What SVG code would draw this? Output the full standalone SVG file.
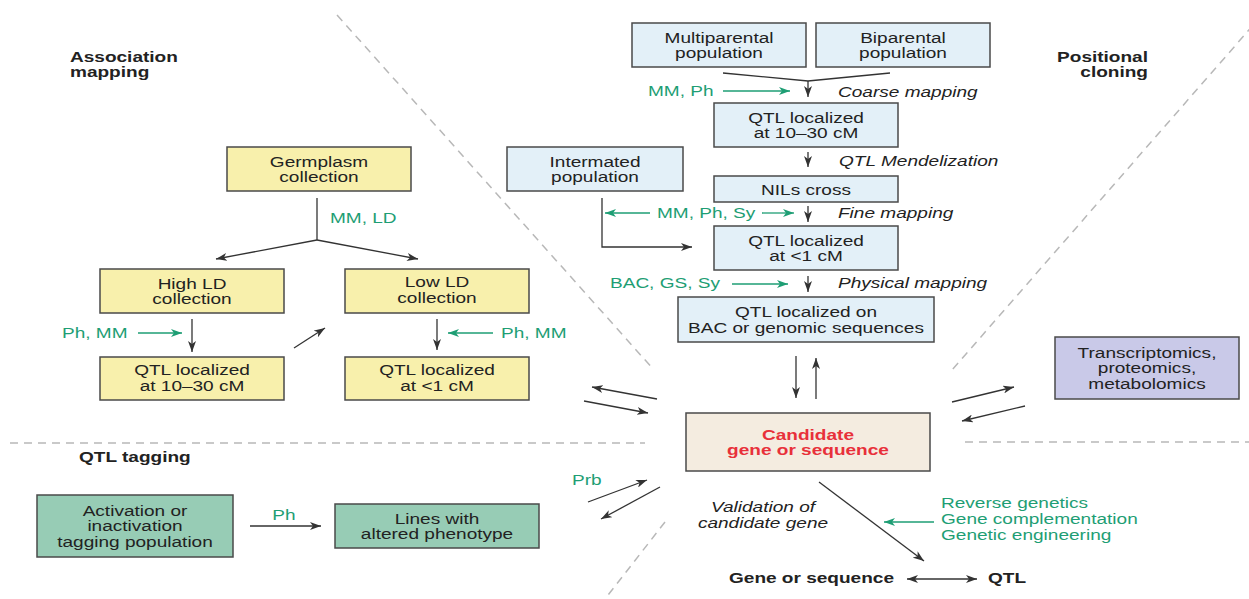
<svg xmlns="http://www.w3.org/2000/svg" width="1249" height="599" viewBox="0 0 1249 599">
<style>
text{font-family:"Liberation Sans",Arial,sans-serif;font-size:15px;fill:#222}
.m{text-anchor:middle}
.e{text-anchor:end}
.b{font-weight:bold}
.i{font-style:italic}
.g{fill:#1e9e74}
.r{fill:#e8303a;font-weight:bold}
rect{stroke:#4a4a4a;stroke-width:1.5}
.blue{fill:#e3f0f8}
.yel{fill:#f8f0ac}
.beige{fill:#f4ece0}
.lav{fill:#c9c9e8}
.teal{fill:#97ccb5}
.dash{stroke:#b8b8b8;stroke-width:1.5;stroke-dasharray:8 6;fill:none}
.k{stroke:#333;stroke-width:1.3;fill:none}
.ka{stroke:#333;stroke-width:1.3;fill:none;marker-end:url(#ah)}
.ga{stroke:#1e9e74;stroke-width:1.3;fill:none;marker-end:url(#gh)}
</style>
<defs>
<marker id="ah" markerUnits="userSpaceOnUse" markerWidth="12" markerHeight="8" refX="11" refY="4" orient="auto-start-reverse"><path d="M0,0 L11,4 L0,8 L3,4 Z" fill="#333"/></marker>
<marker id="gh" markerUnits="userSpaceOnUse" markerWidth="12" markerHeight="8" refX="11" refY="4" orient="auto"><path d="M0,0 L11,4 L0,8 L3,4 Z" fill="#1e9e74"/></marker>
</defs>
<g id="dividers">
<line class="dash" x1="337" y1="15" x2="654" y2="370"/>
<line class="dash" x1="1262" y1="15" x2="952" y2="370"/>
<line class="dash" x1="665" y1="522" x2="605" y2="599"/>
<line class="dash" x1="10" y1="443" x2="645" y2="443"/>
<line class="dash" x1="965" y1="442" x2="1249" y2="442"/>
</g>
<g id="headings">
<text class="b" transform="translate(70,62) scale(1.27 1)">Association<tspan x="0" dy="15.5">mapping</tspan></text>
<text class="b e" transform="translate(1148,62) scale(1.27 1)">Positional<tspan x="0" dy="15.5">cloning</tspan></text>
<text class="b" transform="translate(79,462) scale(1.27 1)">QTL tagging</text>
</g>
<g id="connectors">
<polyline class="k" points="723,73 808,81 890,73"/>
<line class="ka" x1="808" y1="81" x2="808" y2="97"/>
<line class="ga" x1="723" y1="91" x2="790" y2="91"/>
<line class="ka" x1="808" y1="152" x2="808" y2="167"/>
<line class="ka" x1="808" y1="206" x2="808" y2="222"/>
<line class="ga" x1="650" y1="213" x2="605" y2="213"/>
<line class="ga" x1="762" y1="213" x2="794" y2="213"/>
<polyline class="ka" points="602,198 602,247 692,247"/>
<line class="ka" x1="808" y1="276" x2="808" y2="292"/>
<line class="ga" x1="732" y1="284" x2="788" y2="284"/>
<line class="ka" x1="796" y1="356" x2="796" y2="398"/>
<line class="ka" x1="816" y1="399" x2="816" y2="358"/>
<line class="ka" x1="657" y1="399" x2="592" y2="387"/>
<line class="ka" x1="584" y1="401" x2="648" y2="413"/>
<line class="ka" x1="588" y1="502" x2="647" y2="480"/>
<line class="ka" x1="660" y1="487" x2="601" y2="519"/>
<line class="ka" x1="952" y1="402" x2="1014" y2="387"/>
<line class="ka" x1="1025" y1="406" x2="962" y2="421"/>
<line class="ka" x1="819" y1="482" x2="924" y2="561"/>
<line class="ga" x1="934" y1="522" x2="884" y2="522"/>
<line class="ka" x1="907" y1="579" x2="977" y2="579" style="marker-start:url(#ah)"/>
<polyline class="k" points="317,198 317,240"/>
<line class="ka" x1="317" y1="240" x2="216" y2="259"/>
<line class="ka" x1="317" y1="240" x2="418" y2="259"/>
<line class="ga" x1="138" y1="333" x2="182" y2="333"/>
<line class="ka" x1="192" y1="319" x2="192" y2="352"/>
<line class="ka" x1="294" y1="348" x2="325" y2="328"/>
<line class="ka" x1="437" y1="319" x2="437" y2="350"/>
<line class="ga" x1="493" y1="333" x2="448" y2="333"/>
<line class="ka" x1="250" y1="526" x2="321" y2="526"/>
</g>
<g id="labels">
<text class="g" transform="translate(648,96) scale(1.27 1)">MM, Ph</text>
<text class="i" transform="translate(838,97) scale(1.27 1)">Coarse mapping</text>
<text class="i" transform="translate(839,166) scale(1.27 1)">QTL Mendelization</text>
<text class="g" transform="translate(657,218) scale(1.27 1)">MM, Ph, Sy</text>
<text class="i" transform="translate(838,218) scale(1.27 1)">Fine mapping</text>
<text class="g" transform="translate(610,288) scale(1.27 1)">BAC, GS, Sy</text>
<text class="i" transform="translate(838,288) scale(1.27 1)">Physical mapping</text>
<text class="g" transform="translate(330,223) scale(1.27 1)">MM, LD</text>
<text class="g" transform="translate(62,338) scale(1.27 1)">Ph, MM</text>
<text class="g" transform="translate(501,338) scale(1.27 1)">Ph, MM</text>
<text class="g" transform="translate(572,485) scale(1.27 1)">Prb</text>
<text class="g m" transform="translate(284,520) scale(1.27 1)">Ph</text>
<text class="i m" transform="translate(763,512) scale(1.27 1)">Validation of<tspan x="0" dy="16">candidate gene</tspan></text>
<text class="g" transform="translate(941,508) scale(1.27 1)">Reverse genetics<tspan x="0" dy="16">Gene complementation</tspan><tspan x="0" dy="16">Genetic engineering</tspan></text>
<text class="b" transform="translate(729,583) scale(1.27 1)">Gene or sequence</text>
<text class="b" transform="translate(988,583) scale(1.27 1)">QTL</text>
</g>
<g id="n-multiparental"><rect class="blue" x="632" y="23" width="174" height="44"/><text class="m" transform="translate(719,42.5) scale(1.27 1)">Multiparental<tspan x="0" dy="16">population</tspan></text></g>
<g id="n-biparental"><rect class="blue" x="816" y="23" width="174" height="44"/><text class="m" transform="translate(903,42.5) scale(1.27 1)">Biparental<tspan x="0" dy="16">population</tspan></text></g>
<g id="n-qtl-10-30"><rect class="blue" x="714" y="103" width="184" height="44"/><text class="m" transform="translate(806,122.5) scale(1.27 1)">QTL localized<tspan x="0" dy="16">at 10–30 cM</tspan></text></g>
<g id="n-nils"><rect class="blue" x="714" y="176" width="184" height="26"/><text class="m" transform="translate(806,194.5) scale(1.27 1)">NILs cross</text></g>
<g id="n-intermated"><rect class="blue" x="507" y="147" width="176" height="44"/><text class="m" transform="translate(595,166.5) scale(1.27 1)">Intermated<tspan x="0" dy="16">population</tspan></text></g>
<g id="n-qtl-1"><rect class="blue" x="714" y="226" width="184" height="44"/><text class="m" transform="translate(806,245.5) scale(1.27 1)">QTL localized<tspan x="0" dy="16">at &lt;1 cM</tspan></text></g>
<g id="n-bac"><rect class="blue" x="678" y="297" width="256" height="45"/><text class="m" transform="translate(806,317) scale(1.27 1)">QTL localized on<tspan x="0" dy="16">BAC or genomic sequences</tspan></text></g>
<g id="n-germplasm"><rect class="yel" x="227" y="147" width="184" height="44"/><text class="m" transform="translate(319,166.5) scale(1.27 1)">Germplasm<tspan x="0" dy="16">collection</tspan></text></g>
<g id="n-highld"><rect class="yel" x="100" y="269" width="184" height="44"/><text class="m" transform="translate(192,288.5) scale(1.27 1)">High LD<tspan x="0" dy="16">collection</tspan></text></g>
<g id="n-lowld"><rect class="yel" x="345" y="269" width="184" height="44"/><text class="m" transform="translate(437,287) scale(1.27 1)">Low LD<tspan x="0" dy="16">collection</tspan></text></g>
<g id="n-qtl-a"><rect class="yel" x="100" y="357" width="184" height="43"/><text class="m" transform="translate(192,375) scale(1.27 1)">QTL localized<tspan x="0" dy="16">at 10–30 cM</tspan></text></g>
<g id="n-qtl-b"><rect class="yel" x="345" y="357" width="184" height="43"/><text class="m" transform="translate(437,375) scale(1.27 1)">QTL localized<tspan x="0" dy="16">at &lt;1 cM</tspan></text></g>
<g id="n-candidate"><rect class="beige" x="686" y="413" width="244" height="58"/><text class="m r" transform="translate(808,439.5) scale(1.27 1)">Candidate<tspan x="0" dy="16">gene or sequence</tspan></text></g>
<g id="n-omics"><rect class="lav" x="1055" y="337" width="184" height="62"/><text class="m" transform="translate(1147,357.5) scale(1.27 1)">Transcriptomics,<tspan x="0" dy="16">proteomics,</tspan><tspan x="0" dy="16">metabolomics</tspan></text></g>
<g id="n-activation"><rect class="teal" x="37" y="495" width="196" height="62"/><text class="m" transform="translate(135,515.5) scale(1.27 1)">Activation or<tspan x="0" dy="16">inactivation</tspan><tspan x="0" dy="16">tagging population</tspan></text></g>
<g id="n-lines"><rect class="teal" x="335" y="504" width="204" height="44"/><text class="m" transform="translate(437,523.5) scale(1.27 1)">Lines with<tspan x="0" dy="16">altered phenotype</tspan></text></g>
</svg>
